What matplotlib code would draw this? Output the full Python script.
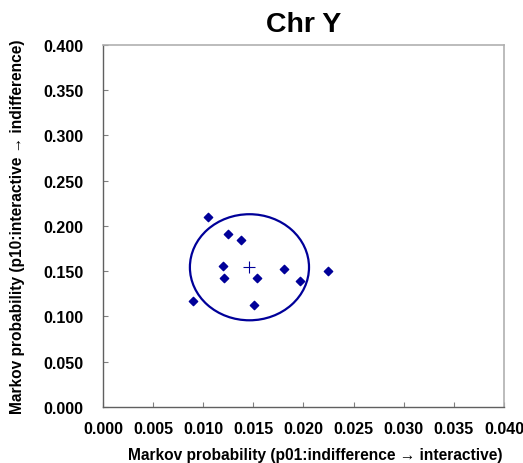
import matplotlib.pyplot as plt
from matplotlib.patches import Ellipse
from matplotlib.ticker import MultipleLocator, FormatStrFormatter

plt.rcParams['font.family'] = ['Liberation Sans', 'DejaVu Sans']
plt.rcParams['font.weight'] = 'bold'

# transition probabilities per sample
p01 = [0.0090, 0.0105, 0.0125, 0.0138, 0.0120, 0.0121, 0.0154, 0.0181, 0.0197, 0.0224, 0.0151]
p10 = [0.117, 0.210, 0.191, 0.185, 0.156, 0.143, 0.143, 0.153, 0.139, 0.150, 0.113]

# mean and spread ellipse
mean_x = 0.01461
mean_y = 0.1544
half_x = 0.00594
half_y = 0.0586

blue = '#000099'

fig = plt.figure(figsize=(5.23, 4.64), dpi=100)
ax = fig.add_axes([0.1969, 0.1207, 0.7668, 0.7802])

ax.scatter(p01, p10, marker='D', s=18, color=blue, zorder=3)
ax.plot([mean_x], [mean_y], marker='+', ms=9, mew=0.8, color=blue, zorder=3)
ax.add_patch(Ellipse((mean_x, mean_y), 2 * half_x, 2 * half_y,
                     fill=False, edgecolor=blue, lw=1.6, zorder=2))

ax.set_xlim(0, 0.04)
ax.set_ylim(0, 0.4)
ax.xaxis.set_major_locator(MultipleLocator(0.005))
ax.yaxis.set_major_locator(MultipleLocator(0.05))
ax.xaxis.set_major_formatter(FormatStrFormatter('%.3f'))
ax.yaxis.set_major_formatter(FormatStrFormatter('%.3f'))
ax.tick_params(direction='in', length=3.5, width=0.8, color='#808080',
               labelsize=11.5)
ax.tick_params(axis='x', pad=10)
ax.tick_params(axis='y', pad=14)

for side in ['left', 'bottom']:
    ax.spines[side].set_color('#606060')
    ax.spines[side].set_linewidth(1.0)
for side in ['top', 'right']:
    ax.spines[side].set_color('#b0b0b0')
    ax.spines[side].set_linewidth(1.2)

ax.set_title('Chr Y', fontsize=20.5, fontweight='bold', pad=10)
ax.set_xlabel('Markov probability (p01:indifference \u2192 interactive)',
              fontsize=11.2, fontweight='bold', va='center')
ax.set_ylabel('Markov probability (p10:interactive \u2192 indifference)',
              fontsize=11.2, fontweight='bold', va='center')
ax.xaxis.set_label_coords((315 - 103) / 401, (408 - 456) / 362)
ax.yaxis.set_label_coords((18 - 103) / 401, (408 - 227) / 362)

fig.savefig('out.png', dpi=100)
